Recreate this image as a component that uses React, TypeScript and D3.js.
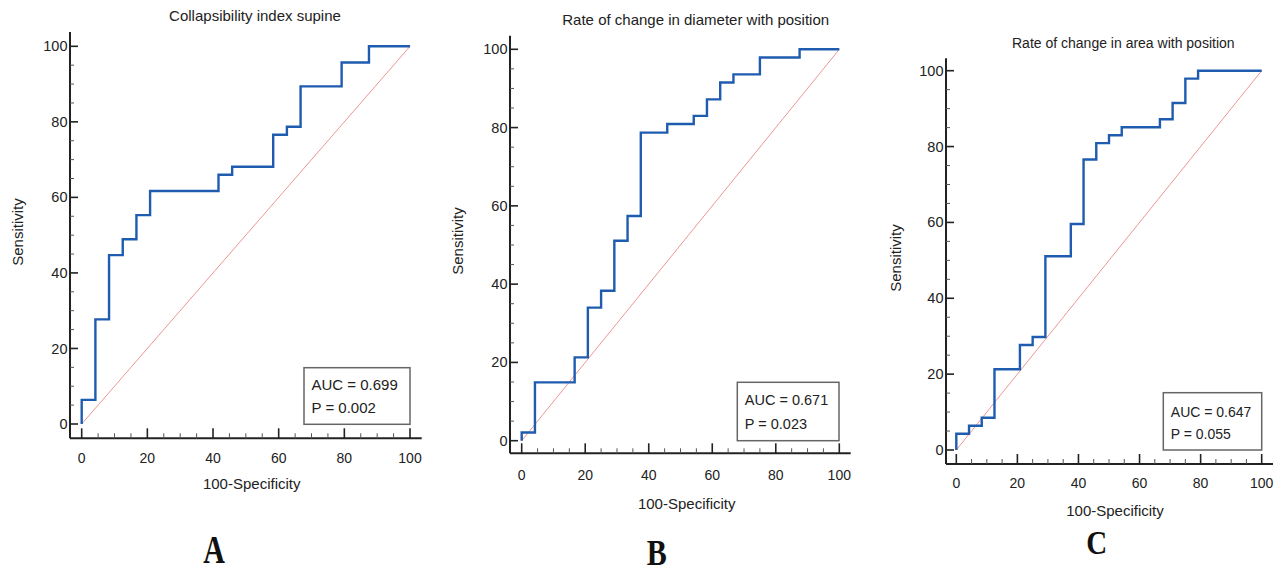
import React from 'react'
import * as d3 from 'd3'

// ROC curves: 100-specificity (x) and sensitivity (y) at each step corner
const fprA = [0, 4.17, 8.33, 12.5, 16.67, 20.83, 41.67, 45.83, 58.33, 62.5, 66.67, 79.17, 87.5, 100]
const sensA = [0, 6.4, 27.7, 44.7, 48.9, 55.3, 61.7, 66.0, 68.1, 76.6, 78.7, 89.4, 95.7, 100]

const fprB = [0, 4.17, 16.67, 20.83, 25, 29.17, 33.33, 37.5, 45.83, 54.17, 58.33, 62.5, 66.67, 75, 87.5, 100]
const sensB = [0, 2.1, 14.9, 21.3, 34.0, 38.3, 51.1, 57.4, 78.7, 80.9, 83.0, 87.2, 91.5, 93.6, 97.9, 100]

const fprC = [0, 4.17, 8.33, 12.5, 20.83, 25, 29.17, 37.5, 41.67, 45.83, 50, 54.17, 66.67, 70.83, 75, 79.17, 100]
const sensC = [0, 4.3, 6.4, 8.5, 21.3, 27.7, 29.8, 51.1, 59.6, 76.6, 80.9, 83.0, 85.1, 87.2, 91.5, 97.9, 100]

const titles = ['Collapsibility index supine', 'Rate of change in diameter with position', 'Rate of change in area with position']
const aucLabels = ['AUC = 0.699', 'AUC = 0.671', 'AUC = 0.647']
const pLabels = ['P = 0.002', 'P = 0.023', 'P = 0.055']
const panelLetters = ['A', 'B', 'C']

const majorTicks = [0, 20, 40, 60, 80, 100]
const minorTicks = d3.range(0, 101, 5)

const BLUE = '#1f5cb0'
const DIAG = '#ec8a84'
const AXIS = '#222'
const FONT = '"Liberation Sans", Arial, sans-serif'

// layout of each panel inside the 1277x569 picture
const layouts = [
  { x0: 81.7, x1: 410, y0: 424, y1: 46.3, axisX: 70, axisTop: 32, axisY: 438.3, axisRight: 421.7,
    titleX: 255, titleY: 21, titleSize: 15, xLabelX: 251.7, xLabelY: 489, yLabelX: 18, yLabelY: 232,
    tickY: 462.5, box: [304, 367.7, 410, 424.3], aucY: 390, pY: 413, boxFont: 15,
    letterX: 214, letterY: 563, letterSize: 30, letterScale: 1.3 },
  { x0: 521.7, x1: 839.3, y0: 440.7, y1: 49.3, axisX: 510, axisTop: 35.7, axisY: 453.3, axisRight: 850.7,
    titleX: 695.7, titleY: 25, titleSize: 15, xLabelX: 686.7, xLabelY: 509, yLabelX: 458, yLabelY: 241,
    tickY: 480, box: [737.3, 382.3, 839, 440.7], aucY: 405, pY: 429, boxFont: 14.5,
    letterX: 656.7, letterY: 565, letterSize: 30, letterScale: 1.17 },
  { x0: 956.3, x1: 1261.7, y0: 450, y1: 70.7, axisX: 946, axisTop: 58.3, axisY: 464, axisRight: 1273,
    titleX: 1123.3, titleY: 48, titleSize: 14, xLabelX: 1115, xLabelY: 516, yLabelX: 896, yLabelY: 258,
    tickY: 488, box: [1163.3, 392.7, 1261.7, 450], aucY: 416.5, pY: 439, boxFont: 14,
    letterX: 1096.7, letterY: 554, letterSize: 29, letterScale: 1.16 },
]

const curves = [
  { fpr: fprA, sens: sensA },
  { fpr: fprB, sens: sensB },
  { fpr: fprC, sens: sensC },
]

function RocPanel({ i }: { i: number }) {
  const L = layouts[i]
  const { fpr, sens } = curves[i]
  const x = d3.scaleLinear().domain([0, 100]).range([L.x0, L.x1])
  const y = d3.scaleLinear().domain([0, 100]).range([L.y0, L.y1])

  const pts = fpr.map((f, k) => [f, sens[k]] as [number, number])
  const step = d3.line<[number, number]>()
    .x(d => x(d[0]))
    .y(d => y(d[1]))
    .curve(d3.curveStepBefore)

  const [bx0, by0, bx1, by1] = L.box

  return (
    <g>
      <text x={L.titleX} y={L.titleY} textAnchor="middle" fontSize={L.titleSize} fill="#222">{titles[i]}</text>

      {/* diagonal reference */}
      <line x1={x(0)} y1={y(0)} x2={x(100)} y2={y(100)} stroke={DIAG} strokeWidth={0.9} />

      {/* ROC step curve */}
      <path d={step(pts) || ''} fill="none" stroke={BLUE} strokeWidth={2.4} strokeLinejoin="miter" />

      {/* y axis */}
      <line x1={L.axisX} y1={L.axisTop} x2={L.axisX} y2={L.axisY} stroke={AXIS} strokeWidth={2} />
      {minorTicks.map(t => (
        <line key={'ym' + t} x1={L.axisX} x2={L.axisX + (t % 20 === 0 ? 8 : 4)} y1={y(t)} y2={y(t)}
          stroke={t % 20 === 0 ? AXIS : '#555'} strokeWidth={t % 20 === 0 ? 1.6 : 1} />
      ))}
      {majorTicks.map(t => (
        <text key={'yl' + t} x={L.axisX - 2.5} y={y(t)} dy="0.35em" textAnchor="end" fontSize={14.5} fill="#222">{t}</text>
      ))}

      {/* x axis */}
      <line x1={L.axisX} y1={L.axisY} x2={L.axisRight} y2={L.axisY} stroke={AXIS} strokeWidth={2} />
      {minorTicks.map(t => (
        <line key={'xm' + t} x1={x(t)} x2={x(t)} y1={L.axisY} y2={L.axisY - (t % 20 === 0 ? 10 : 5)}
          stroke={t % 20 === 0 ? AXIS : '#555'} strokeWidth={t % 20 === 0 ? 1.6 : 1} />
      ))}
      {majorTicks.map(t => (
        <text key={'xl' + t} x={x(t)} y={L.tickY} textAnchor="middle" fontSize={14} fill="#222">{t}</text>
      ))}

      <text x={L.xLabelX} y={L.xLabelY} textAnchor="middle" fontSize={15} fill="#222">100-Specificity</text>
      <text transform={`translate(${L.yLabelX},${L.yLabelY}) rotate(-90)`} textAnchor="middle" dy="0.35em"
        fontSize={15} fill="#222">Sensitivity</text>

      {/* AUC box */}
      <rect x={bx0} y={by0} width={bx1 - bx0} height={by1 - by0} fill="#fff" stroke="#666" strokeWidth={1.5} />
      <text x={bx0 + 7.5} y={L.aucY} fontSize={L.boxFont} fill="#222">{aucLabels[i]}</text>
      <text x={bx0 + 7.5} y={L.pY} fontSize={L.boxFont} fill="#222">{pLabels[i]}</text>

      <text transform={`translate(${L.letterX},${L.letterY}) scale(1,${L.letterScale})`} textAnchor="middle"
        fontFamily='"Liberation Serif", "Times New Roman", serif' fontWeight="bold" fontSize={L.letterSize}
        fill="#111">{panelLetters[i]}</text>
    </g>
  )
}

export default function App() {
  return (
    <svg width={1277} height={569} style={{ position: 'absolute', left: 0, top: 0, background: '#fff' }}
      fontFamily={FONT}>
      {[0, 1, 2].map(i => <RocPanel key={i} i={i} />)}
    </svg>
  )
}
